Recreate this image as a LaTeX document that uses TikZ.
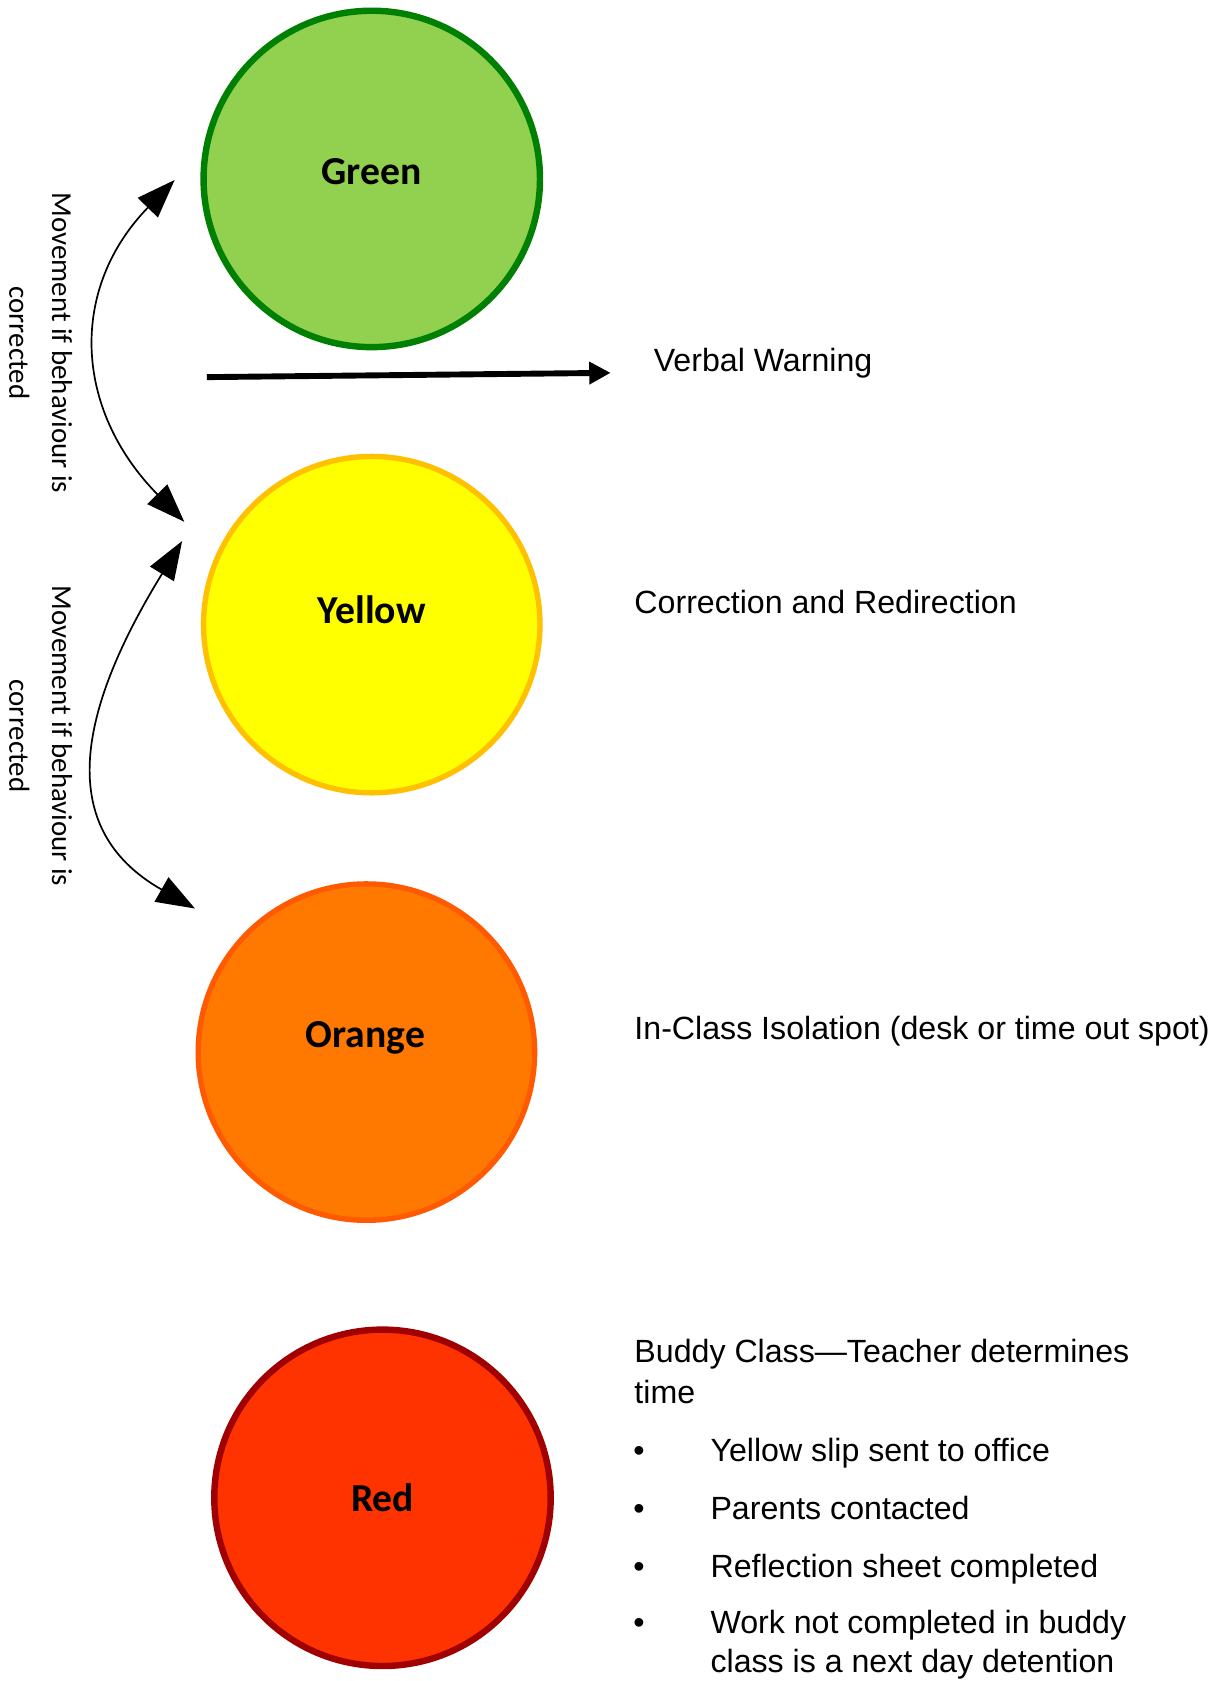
\documentclass[tikz,border=0pt]{standalone}
\usepackage{fontspec}
\setmainfont{Liberation Sans}
\newfontfamily\carlito{Carlito}
\usetikzlibrary{arrows.meta}
\definecolor{gfill}{HTML}{92D050}
\definecolor{gline}{HTML}{008000}
\definecolor{yfill}{HTML}{FFFF00}
\definecolor{yline}{HTML}{FFC000}
\definecolor{ofill}{HTML}{FF7900}
\definecolor{oline}{HTML}{FF5A00}
\definecolor{rfill}{HTML}{FF3300}
\definecolor{rline}{HTML}{A00000}
\tikzset{
  lamp/.style={circle, minimum size=314pt, inner sep=0pt, line width=6pt},
  lamplabel/.style={font=\carlito\bfseries\fontsize{37}{44}\selectfont, inner sep=0pt},
  desc/.style={anchor=base west, font=\fontsize{30}{39}\selectfont, inner sep=0pt},
  movetext/.style={rotate=-90, align=center, font=\carlito\fontsize{27}{40}\selectfont, inner sep=0pt},
  movearrow/.style={{Triangle[length=36pt,width=26pt]}-{Triangle[length=36pt,width=26pt]}, line width=1.6pt},
  warnarrow/.style={-{Triangle[length=20pt,width=20pt]}, line width=5.5pt}
}
\begin{document}
\begin{tikzpicture}[x=1pt,y=-1pt]
\useasboundingbox (0,0) rectangle (1132,1569);
\fill[white] (0,0) rectangle (1132,1569);

% lamps
\node[lamp, draw=gline, fill=gfill] (green) at (347,167) {};
\node[lamp, draw=yline, fill=yfill, line width=5pt] (yellow) at (347,583) {};
\node[lamp, draw=oline, fill=ofill, line width=5pt] (orange) at (342,982) {};
\node[lamp, draw=rline, fill=rfill] (red) at (357,1398) {};

\node[lamplabel] (gl) at (347,160) {Green};
\node[lamplabel] (yl) at (347,569) {Yellow};
\node[lamplabel] (ol) at (341,969) {Orange};
\node[lamplabel] (rl) at (357,1398) {Red};

% verbal warning arrow
\coordinate (hs) at (193,352);
\coordinate (he) at (570,348);
\draw[warnarrow] (hs) -- (he);
\node[desc] (vw) at (610,347) {Verbal Warning};

% movement arrows
\coordinate (a1) at (163,168);
\coordinate (a2) at (172,487);
\coordinate (b1) at (170,505);
\coordinate (b2) at (182,848);
\draw[movearrow] (a1) .. controls (64,270) and (69,382) .. (a2);
\draw[movearrow] (b1) .. controls (73,663) and (50,773) .. (b2);
\node[movetext] (m1) at (38,320) {Movement if behaviour is\\corrected};
\node[movetext] (m2) at (38,687) {Movement if behaviour is\\corrected};

% descriptions
\node[desc] (cr) at (592,573) {Correction and Redirection};
\node[desc] (ic) at (592,970) {In-Class Isolation (desk or time out spot)};
\node[desc] (bc1) at (592,1272) {Buddy Class—Teacher determines};
\node[desc] (bc2) at (592,1310) {time};

\node[desc] (d1) at (591,1364) {•};
\node[desc] (t1) at (663,1364) {Yellow slip sent to office};
\node[desc] (d2) at (591,1418) {•};
\node[desc] (t2) at (663,1418) {Parents contacted};
\node[desc] (d3) at (591,1472) {•};
\node[desc] (t3) at (663,1472) {Reflection sheet completed};
\node[desc] (d4) at (591,1525) {•};
\node[desc] (t4) at (663,1525) {Work not completed in buddy};
\node[desc] (t5) at (663,1561) {class is a next day detention};
\end{tikzpicture}
\end{document}
